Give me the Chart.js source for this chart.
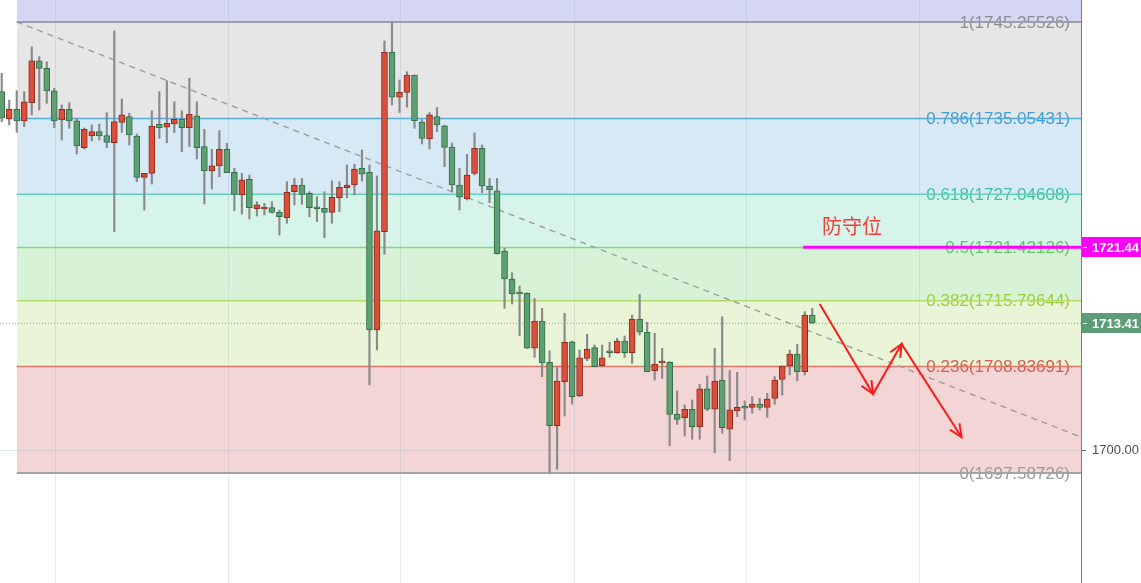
<!DOCTYPE html>
<html>
<head>
<meta charset="utf-8">
<title>XAUUSD fib</title>
<script src="https://cdn.jsdelivr.net/npm/chart.js@4.4.1/dist/chart.umd.min.js"></script>
<style>
    html, body { margin: 0; padding: 0; background: #fff; }
    #wrap { position: relative; width: 1141px; height: 583px; overflow: hidden; }
</style>
</head>
<body>
<div id="wrap"><canvas id="myChart" width="1141" height="583"></canvas></div>
<script>
// candles (red = up, green = down)
const opens = [
    1737.89, 1735.00, 1736.03, 1734.79, 1736.73, 1741.16, 1740.36, 1737.99, 1734.90, 1736.03,
    1734.82, 1731.97, 1733.21, 1733.66, 1733.24, 1732.50, 1734.65, 1735.25, 1733.21, 1728.84,
    1729.26, 1734.44, 1734.13, 1734.47, 1734.97, 1734.08, 1735.35, 1732.08, 1729.51, 1730.04,
    1731.80, 1729.37, 1726.97, 1728.63, 1725.52, 1725.49, 1725.65, 1725.14, 1724.57, 1727.32,
    1728.03, 1727.15, 1725.73, 1725.56, 1725.14, 1726.68, 1727.74, 1728.03, 1729.79, 1729.37,
    1712.70, 1723.09, 1742.05, 1737.30, 1737.82, 1739.65, 1734.69, 1732.89, 1735.25, 1734.29,
    1732.04, 1728.03, 1726.55, 1729.26, 1731.91, 1727.92, 1727.42, 1721.05, 1718.09, 1716.64,
    1716.58, 1710.77, 1713.65, 1709.29, 1702.59, 1707.24, 1711.46, 1705.73, 1709.71, 1710.83,
    1708.93, 1710.51, 1710.30, 1711.54, 1710.30, 1713.86, 1712.46, 1708.40, 1709.21, 1709.29,
    1703.79, 1703.43, 1704.32, 1702.48, 1706.47, 1704.32, 1707.42, 1702.21, 1704.17, 1704.56,
    1704.53, 1704.88, 1704.53, 1705.48, 1707.49, 1708.90, 1710.16, 1708.29, 1714.29
];
const highs = [
    1739.83, 1737.01, 1737.99, 1737.89, 1742.64, 1741.59, 1741.06, 1738.25, 1736.48, 1736.73,
    1735.08, 1734.05, 1734.37, 1734.47, 1735.67, 1744.30, 1737.12, 1735.61, 1733.42, 1729.26,
    1735.88, 1737.89, 1739.05, 1736.83, 1735.88, 1739.30, 1736.83, 1733.91, 1731.80, 1733.77,
    1732.43, 1729.79, 1729.26, 1729.08, 1726.26, 1726.09, 1726.26, 1725.38, 1728.38, 1728.73,
    1728.73, 1727.32, 1726.79, 1727.32, 1728.48, 1728.38, 1730.14, 1730.21, 1731.73, 1730.14,
    1728.98, 1743.25, 1745.26, 1739.12, 1740.00, 1739.65, 1734.95, 1735.69, 1736.22, 1734.37,
    1732.47, 1729.79, 1731.27, 1733.55, 1732.25, 1728.73, 1728.73, 1721.34, 1718.76, 1717.35,
    1716.64, 1716.05, 1714.99, 1710.51, 1708.76, 1714.47, 1711.54, 1710.59, 1712.25, 1711.12,
    1711.12, 1711.40, 1711.82, 1712.07, 1714.29, 1716.47, 1713.51, 1712.35, 1710.77, 1709.35,
    1706.25, 1704.77, 1705.30, 1706.96, 1707.84, 1710.77, 1714.11, 1708.40, 1708.23, 1705.20,
    1705.65, 1705.48, 1706.01, 1707.77, 1708.90, 1710.59, 1711.19, 1714.64, 1714.99
];
const lows = [
    1734.72, 1734.37, 1733.60, 1734.19, 1735.43, 1735.95, 1736.66, 1734.08, 1732.78, 1734.02,
    1731.30, 1731.83, 1732.68, 1732.78, 1731.97, 1723.09, 1733.60, 1732.25, 1728.38, 1725.38,
    1728.13, 1732.96, 1732.50, 1733.55, 1731.55, 1732.08, 1730.78, 1726.02, 1727.60, 1728.90,
    1729.33, 1725.31, 1724.96, 1724.43, 1724.75, 1724.86, 1725.04, 1722.74, 1723.98, 1725.91,
    1725.99, 1724.68, 1724.15, 1722.46, 1723.98, 1725.20, 1726.68, 1726.97, 1728.45, 1706.89,
    1710.59, 1720.70, 1736.48, 1735.69, 1736.24, 1734.02, 1732.36, 1731.83, 1733.66, 1729.96,
    1727.29, 1725.38, 1726.44, 1729.08, 1727.21, 1726.16, 1720.73, 1714.99, 1715.45, 1712.10,
    1710.77, 1709.82, 1707.77, 1697.59, 1697.98, 1703.61, 1704.88, 1705.65, 1709.46, 1708.82,
    1708.82, 1709.82, 1710.24, 1709.82, 1709.18, 1712.17, 1708.29, 1707.42, 1707.60, 1700.47,
    1702.71, 1701.50, 1701.15, 1701.15, 1704.17, 1699.73, 1701.78, 1698.89, 1703.54, 1703.19,
    1703.90, 1704.25, 1703.47, 1704.85, 1705.83, 1707.95, 1707.34, 1707.95, 1713.41
];
const closes = [
    1735.08, 1736.03, 1734.79, 1736.83, 1741.16, 1740.36, 1737.96, 1734.79, 1736.03, 1734.79,
    1732.15, 1733.91, 1733.66, 1733.21, 1732.54, 1734.72, 1735.43, 1733.31, 1728.84, 1729.26,
    1734.26, 1734.08, 1734.55, 1734.97, 1734.08, 1735.50, 1731.97, 1729.51, 1730.04, 1731.80,
    1729.33, 1727.04, 1728.56, 1725.63, 1725.94, 1725.63, 1725.12, 1724.68, 1727.26, 1728.03,
    1727.04, 1725.63, 1725.52, 1725.14, 1726.73, 1727.78, 1728.03, 1729.72, 1729.16, 1712.70,
    1723.17, 1742.05, 1737.30, 1737.82, 1739.65, 1734.82, 1732.96, 1735.43, 1734.37, 1732.01,
    1728.03, 1726.73, 1729.08, 1731.91, 1727.92, 1727.50, 1720.73, 1718.09, 1716.51, 1716.51,
    1710.77, 1713.65, 1709.21, 1702.59, 1707.31, 1711.40, 1705.65, 1709.77, 1710.69, 1708.82,
    1709.77, 1710.30, 1711.54, 1710.30, 1713.86, 1712.46, 1708.29, 1709.11, 1709.35, 1703.79,
    1703.26, 1704.32, 1702.48, 1706.47, 1704.32, 1707.31, 1702.37, 1704.25, 1704.53, 1704.43,
    1704.88, 1704.53, 1705.41, 1707.42, 1708.90, 1710.16, 1708.29, 1714.29, 1713.41
];

// fibonacci retracement
const fibLevels = [1, 0.786, 0.618, 0.5, 0.382, 0.236, 0];
const fibPrices = [1745.25526, 1735.05431, 1727.04608, 1721.42126, 1715.79644, 1708.83691, 1697.58726];
const fibStart = 2;

// axis
const yTicks = [1700];
const gridX = [7.2, 30.2, 53.2, 76.3, 99.3, 122.3];
const xMin = -0.23, xMax = 143.81;
const yMin = 1685.96, yMax = 1747.58;

// drawings
const trendX = [2, 143.81];
const trendY = [1745.26, 1701.39];
const arrowX = [109.0, 116.1, 119.9, 127.9];
const arrowY = [1715.45, 1705.94, 1711.22, 1701.36];
const defenseLevel = 1721.44;
const defenseStart = 106.8;
const defenseText = '防守位';
const defenseTextPos = [113.3, 1723.6];
const lastPrice = closes[closes.length - 1];

const bandColors = ['#e6e6e6', '#d6e9f5', '#d6f4ea', '#d8f2d8', '#eaf4d7', '#f4d5d5', null];
const lineColors = ['#9e9eaa', '#56aadc', '#66d0b8', '#84d884', '#b4dc6c', '#e07868', '#a4a4a4'];
const textColors = ['#8e8e8e', '#3d9fd6', '#3ec3a3', '#5ccb5c', '#9ecd3a', '#d85a4c', '#9a9a9a'];

Chart.defaults.font.family = '"Liberation Sans", Arial, sans-serif';

let candleIdx = opens.map((v, i) => i);
let isUp = candleIdx.map(i => closes[i] >= opens[i]);

let datasets = [
    {
        type: 'line', label: 'arrows',
        data: arrowX.map((x, i) => ({ x: x, y: arrowY[i] })),
        borderColor: '#ff1a1a', borderWidth: 2, pointRadius: 0, fill: false, order: -2
    },
    {
        type: 'line', label: 'defense',
        data: [{ x: defenseStart, y: defenseLevel }, { x: xMax, y: defenseLevel }],
        borderColor: '#ff00ff', borderWidth: 3, pointRadius: 0, fill: false, order: -1
    },
    {
        type: 'bar', label: 'body',
        data: candleIdx.map(i => ({ x: i, y: [opens[i], closes[i]] })),
        backgroundColor: isUp.map(u => u ? '#d84f3b' : '#5f9f74'),
        borderColor: isUp.map(u => u ? '#8e2b1d' : '#336f47'),
        borderWidth: 1, borderSkipped: false, barThickness: 6, minBarLength: 2,
        grouped: false, order: 0
    },
    {
        type: 'bar', label: 'wick',
        data: candleIdx.map(i => ({ x: i, y: [lows[i], highs[i]] })),
        backgroundColor: '#8a8a8a', borderWidth: 0, barThickness: 1.5,
        grouped: false, order: 1
    },
    {
        type: 'line', label: 'trend',
        data: trendX.map((x, i) => ({ x: x, y: trendY[i] })),
        borderColor: '#9a9a9a', borderWidth: 1.3, borderDash: [6, 5],
        pointRadius: 0, fill: false, order: 3
    },
    {
        type: 'line', label: 'last',
        data: [{ x: xMin, y: lastPrice }, { x: xMax, y: lastPrice }],
        borderColor: 'rgba(95,150,118,0.8)', borderWidth: 1, borderDash: [1, 2],
        pointRadius: 0, fill: false, order: 4
    },
    {
        type: 'line', label: 'above',
        data: [{ x: fibStart, y: fibPrices[0] }, { x: xMax, y: fibPrices[0] }],
        borderWidth: 0, pointRadius: 0, fill: 'end',
        backgroundColor: '#d5d5f5', order: 30
    }
];

fibLevels.forEach((lv, i) => {
    datasets.push({
        type: 'line', label: 'fib ' + lv,
        data: [{ x: fibStart, y: fibPrices[i] }, { x: xMax, y: fibPrices[i] }],
        borderColor: lineColors[i],
        borderWidth: (lv === 0 || lv === 1) ? 2 : 1.5,
        pointRadius: 0,
        fill: bandColors[i] ? '+1' : false,
        backgroundColor: bandColors[i] || 'transparent',
        order: 20
    });
});

const overlay = {
    id: 'overlay',
    beforeDatasetsDraw(chart) {
        const { ctx, chartArea, scales } = chart;
        ctx.save();
        ctx.font = '17px "Liberation Sans", Arial, sans-serif';
        ctx.textAlign = 'right';
        ctx.textBaseline = 'middle';
        fibLevels.forEach((lv, i) => {
            ctx.fillStyle = textColors[i];
            ctx.fillText(lv + '(' + fibPrices[i].toFixed(5) + ')', chartArea.right - 11, scales.y.getPixelForValue(fibPrices[i]) + 1);
        });
        ctx.restore();
    },
    afterDatasetsDraw(chart) {
        const { ctx, scales } = chart;
        ctx.save();
        // arrow heads
        ctx.strokeStyle = '#ff1a1a';
        ctx.lineWidth = 2;
        for (let k = 1; k < arrowX.length; k++) {
            let x0 = scales.x.getPixelForValue(arrowX[k - 1]), y0 = scales.y.getPixelForValue(arrowY[k - 1]);
            let x1 = scales.x.getPixelForValue(arrowX[k]), y1 = scales.y.getPixelForValue(arrowY[k]);
            let a = Math.atan2(y0 - y1, x0 - x1);
            ctx.beginPath();
            ctx.moveTo(x1 + 14 * Math.cos(a + 0.42), y1 + 14 * Math.sin(a + 0.42));
            ctx.lineTo(x1, y1);
            ctx.lineTo(x1 + 14 * Math.cos(a - 0.42), y1 + 14 * Math.sin(a - 0.42));
            ctx.stroke();
        }
        ctx.fillStyle = '#f0403a';
        ctx.font = '20px "Noto Sans CJK SC", sans-serif';
        ctx.textAlign = 'center';
        ctx.textBaseline = 'middle';
        ctx.fillText(defenseText, scales.x.getPixelForValue(defenseTextPos[0]), scales.y.getPixelForValue(defenseTextPos[1]));
        ctx.restore();
    },
    afterDraw(chart) {
        const { ctx, chartArea, scales } = chart;
        const boxes = [[defenseLevel, '#ff00ff'], [lastPrice, '#5e9c78']];
        ctx.save();
        ctx.font = 'bold 13px "Liberation Sans", Arial, sans-serif';
        ctx.textBaseline = 'middle';
        ctx.textAlign = 'left';
        boxes.forEach(b => {
            let py = Math.round(scales.y.getPixelForValue(b[0]));
            ctx.fillStyle = b[1];
            ctx.fillRect(chartArea.right + 1, py - 10, 62, 20);
            ctx.fillStyle = '#fff';
            ctx.fillRect(chartArea.right + 2, py, 4, 1);
            ctx.fillText(b[0].toFixed(2), chartArea.right + 11, py + 1);
        });
        ctx.restore();
    }
};

const ctxP = document.querySelector('#myChart').getContext('2d');
const chartGraph = new Chart(ctxP, {
    type: 'bar',
    data: { datasets: datasets },
    options: {
        responsive: false,
        animation: false,
        devicePixelRatio: 1,
        events: [],
        layout: { padding: 0 },
        plugins: {
            legend: { display: false },
            tooltip: { enabled: false },
            filler: { drawTime: 'beforeDraw' }
        },
        scales: {
            x: {
                type: 'linear', min: xMin, max: xMax, offset: false,
                afterBuildTicks: s => { s.ticks = gridX.map(v => ({ value: v })); },
                afterFit: s => { s.height = 0; s.paddingLeft = 0; s.paddingRight = 0; },
                ticks: { display: false },
                grid: { color: 'rgba(160,185,205,0.3)', drawTicks: false, offset: false },
                border: { display: false }
            },
            y: {
                position: 'right', min: yMin, max: yMax,
                afterBuildTicks: s => { s.ticks = yTicks.map(v => ({ value: v })); },
                afterFit: s => { s.width = 60; s.paddingTop = 0; s.paddingBottom = 0; },
                ticks: {
                    color: '#4d4d4d', padding: 6,
                    font: { size: 13 },
                    callback: v => Number(v).toFixed(2)
                },
                grid: { color: 'rgba(160,185,205,0.35)', tickColor: '#666', tickLength: 5 },
                border: { color: '#7a7a7a' }
            }
        }
    },
    plugins: [overlay]
});
</script>
</body>
</html>
